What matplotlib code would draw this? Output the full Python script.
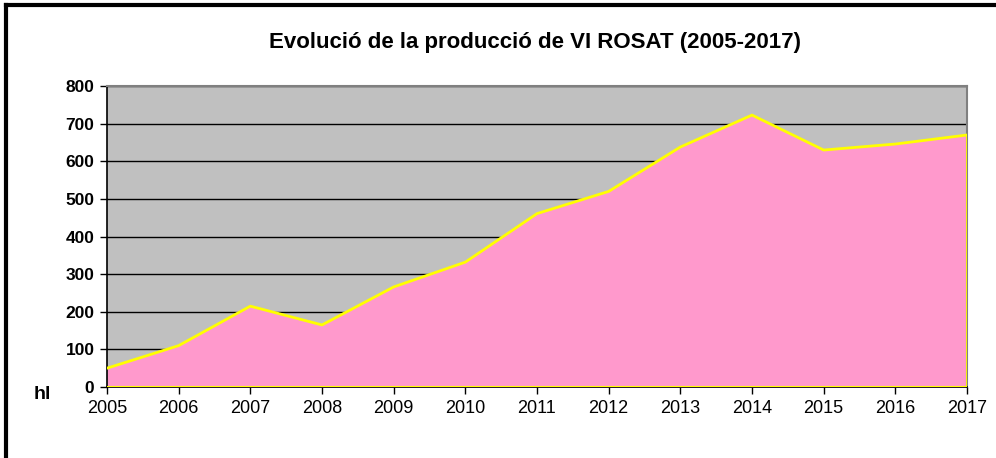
import matplotlib.pyplot as plt

plt.rcParams['font.family'] = ['Liberation Sans', 'DejaVu Sans']

# produccio de vi rosat, hl
anys = [2005, 2006, 2007, 2008, 2009, 2010, 2011, 2012, 2013, 2014, 2015, 2016, 2017]
hl = [50, 110, 215, 165, 266, 332, 461, 520, 638, 723, 630, 646, 670]
y_ticks = [0, 100, 200, 300, 400, 500, 600, 700, 800]

fig = plt.figure(figsize=(9.96, 4.58), dpi=100)
ax = fig.add_axes([0.1074, 0.155, 0.8635, 0.657])

ax.set_facecolor('#C0C0C0')
ax.fill_between(anys, hl, 0, color='#FF99CC', zorder=2, linewidth=0)
ax.plot(anys, hl, color='#FFFF00', linewidth=2, zorder=3)
ax.plot([anys[-1], anys[-1]], [0, hl[-1]], color='#FFFF00', linewidth=2, zorder=3)
ax.plot([anys[0], anys[-1]], [0, 0], color='#FFFF00', linewidth=1.5, zorder=3)

ax.set_xlim(anys[0], anys[-1])
ax.set_ylim(0, 800)
ax.set_yticks(y_ticks)
ax.set_xticks(anys)
ax.set_yticklabels([str(v) for v in y_ticks], fontsize=12.5, fontweight='bold')
ax.set_xticklabels([str(a) for a in anys], fontsize=13)
ax.tick_params(axis='both', direction='out', length=5, width=1, color='black', pad=4)
ax.grid(axis='y', color='black', linewidth=1, zorder=1)
ax.set_axisbelow(True)

for s in ['top', 'right']:
    ax.spines[s].set_color('#808080')
    ax.spines[s].set_linewidth(1.5)
for s in ['left', 'bottom']:
    ax.spines[s].set_color('black')
    ax.spines[s].set_linewidth(1.2)

fig.text(0.537, 0.908, 'Evolució de la producció de VI ROSAT (2005-2017)',
         ha='center', va='center', fontsize=16, fontweight='bold')
fig.text(0.042, 0.138, 'hl', ha='center', va='center', fontsize=14, fontweight='bold')

# marc del grafic (esquerra i dalt)
fig.add_artist(plt.Line2D([0.006, 0.006], [0, 0.99], color='black', linewidth=3,
                          transform=fig.transFigure))
fig.add_artist(plt.Line2D([0.006, 1], [0.99, 0.99], color='black', linewidth=3,
                          transform=fig.transFigure))

fig.savefig('out.png', dpi=100)
